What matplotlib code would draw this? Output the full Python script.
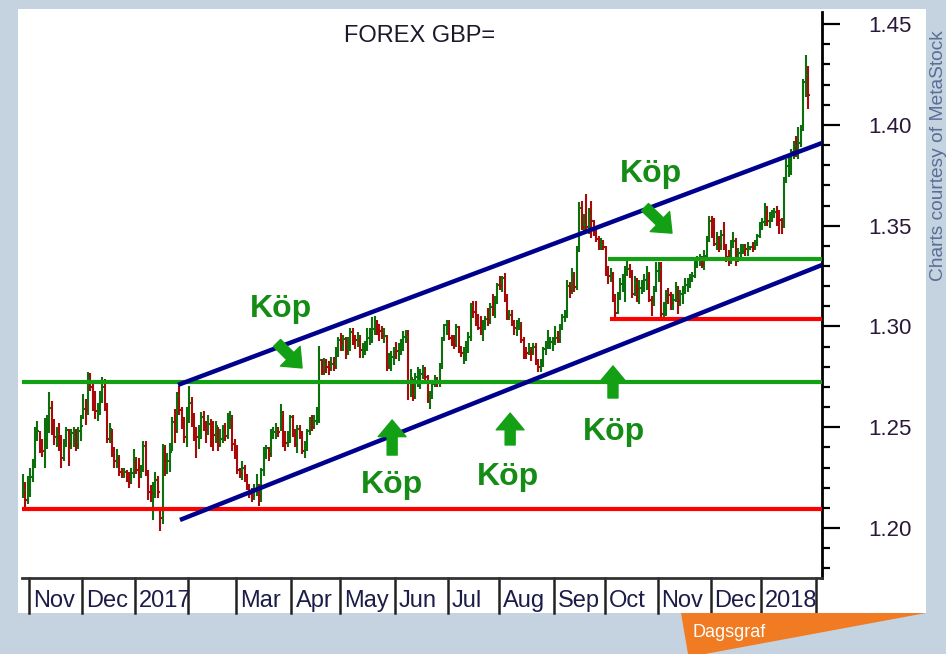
import numpy as np
import pandas as pd
import matplotlib
matplotlib.use('Agg')
import matplotlib.pyplot as plt
import matplotlib.transforms as mtransforms
from matplotlib.patches import Rectangle, Polygon
from matplotlib.ticker import MultipleLocator, FormatStrFormatter

# GBP/USD daily bars, 2016-10-27 .. 2018-01-26 (business days), one row per month
high = [
    1.2270, 1.2230, 1.2260,
    1.2300, 1.2340, 1.2500, 1.2530, 1.2480, 1.2440, 1.2545, 1.2560, 1.2675, 1.2630, 1.2540,
    1.2500, 1.2520, 1.2460, 1.2440, 1.2500, 1.2490, 1.2490, 1.2500, 1.2490, 1.2500, 1.2560,
    1.2665, 1.2640, 1.2775, 1.2770, 1.2720, 1.2680, 1.2620, 1.2680, 1.2750, 1.2740, 1.2620,
    1.2520, 1.2490, 1.2400, 1.2390, 1.2360, 1.2300, 1.2300, 1.2290, 1.2280, 1.2300, 1.2390,
    1.2350, 1.2345, 1.2315, 1.2430, 1.2430, 1.2290, 1.2215, 1.2230, 1.2280, 1.2260, 1.2100,
    1.2415, 1.2410, 1.2370, 1.2420, 1.2550, 1.2590, 1.2675, 1.2705, 1.2600, 1.2550, 1.2600,
    1.2705, 1.2650, 1.2570, 1.2500, 1.2510, 1.2575, 1.2580, 1.2530, 1.2560, 1.2540,
    1.2530, 1.2530, 1.2500, 1.2490, 1.2510, 1.2520, 1.2570, 1.2580, 1.2560, 1.2440,
    1.2410, 1.2300, 1.2330, 1.2315, 1.2270, 1.2220, 1.2200, 1.2220, 1.2270, 1.2220, 1.2300,
    1.2400, 1.2410, 1.2400, 1.2490, 1.2500, 1.2520, 1.2500, 1.2615, 1.2580, 1.2480, 1.2480, 1.2560,
    1.2560, 1.2490, 1.2510, 1.2510, 1.2480, 1.2430, 1.2490, 1.2550, 1.2560, 1.2560,
    1.2600, 1.2905, 1.2840, 1.2845, 1.2840, 1.2830, 1.2850, 1.2850, 1.2900, 1.2950,
    1.2965, 1.2960, 1.2950, 1.2950, 1.2990, 1.2990, 1.2960, 1.2970, 1.2960, 1.2920, 1.2930,
    1.2990, 1.2990, 1.3047, 1.3050, 1.3030, 1.3010, 1.3000, 1.2990, 1.2960, 1.2870, 1.2880, 1.2900,
    1.2925, 1.2920, 1.2940, 1.2975, 1.2980, 1.2980, 1.2790, 1.2740, 1.2770, 1.2800, 1.2790,
    1.2810, 1.2800, 1.2760, 1.2680, 1.2730, 1.2760, 1.2750, 1.2820, 1.2950, 1.3010, 1.3030,
    1.3030, 1.2960, 1.2960, 1.3010, 1.3000, 1.2905, 1.2900, 1.2930, 1.2970, 1.3115, 1.3125,
    1.3125, 1.3060, 1.3050, 1.3030, 1.3050, 1.3090, 1.3115, 1.3160, 1.3150, 1.3215,
    1.3250, 1.3250, 1.3267, 1.3160, 1.3080, 1.3080, 1.3030, 1.3030, 1.3040, 1.3020, 1.2950,
    1.2900, 1.2920, 1.2900, 1.2920, 1.2920, 1.2840, 1.2840, 1.2900, 1.2930, 1.2980, 1.2950, 1.2950,
    1.3000, 1.2975, 1.3010, 1.3060, 1.3080, 1.3230, 1.3220, 1.3290, 1.3270, 1.3400, 1.3615,
    1.3620, 1.3560, 1.3657, 1.3590, 1.3620, 1.3530, 1.3500, 1.3450, 1.3440, 1.3430,
    1.3400, 1.3300, 1.3290, 1.3270, 1.3160, 1.3170, 1.3240, 1.3260, 1.3300, 1.3338, 1.3310,
    1.3280, 1.3250, 1.3240, 1.3230, 1.3230, 1.3260, 1.3300, 1.3270, 1.3150, 1.3200, 1.3320,
    1.3320, 1.3320, 1.3120, 1.3180, 1.3190, 1.3170, 1.3160, 1.3220, 1.3200, 1.3180, 1.3200,
    1.3240, 1.3240, 1.3260, 1.3270, 1.3330, 1.3350, 1.3360, 1.3350, 1.3380, 1.3450, 1.3550,
    1.3550, 1.3540, 1.3470, 1.3450, 1.3480, 1.3520, 1.3410, 1.3380, 1.3430, 1.3470, 1.3440,
    1.3390, 1.3410, 1.3410, 1.3410, 1.3420, 1.3400, 1.3420, 1.3430, 1.3460, 1.3520,
    1.3540, 1.3610, 1.3600, 1.3570, 1.3580, 1.3590, 1.3600, 1.3580, 1.3540, 1.3740,
    1.3830, 1.3840, 1.3880, 1.3920, 1.3945, 1.3990, 1.4000, 1.4230, 1.4345, 1.4290,
]
low = [
    1.2150, 1.2100, 1.2120,
    1.2155, 1.2230, 1.2300, 1.2430, 1.2370, 1.2350, 1.2300, 1.2390, 1.2470, 1.2460, 1.2410,
    1.2400, 1.2380, 1.2300, 1.2330, 1.2400, 1.2310, 1.2390, 1.2400, 1.2380, 1.2390, 1.2430,
    1.2540, 1.2510, 1.2560, 1.2680, 1.2580, 1.2540, 1.2530, 1.2560, 1.2620, 1.2580, 1.2420,
    1.2420, 1.2350, 1.2300, 1.2300, 1.2260, 1.2250, 1.2250, 1.2230, 1.2200, 1.2220, 1.2250,
    1.2270, 1.2200, 1.2250, 1.2280, 1.2260, 1.2140, 1.2130, 1.2040, 1.2150, 1.2150, 1.1986,
    1.2020, 1.2260, 1.2270, 1.2280, 1.2380, 1.2420, 1.2470, 1.2560, 1.2490, 1.2420, 1.2400,
    1.2520, 1.2500, 1.2430, 1.2345, 1.2390, 1.2440, 1.2480, 1.2420, 1.2460, 1.2400,
    1.2380, 1.2420, 1.2380, 1.2400, 1.2420, 1.2430, 1.2440, 1.2490, 1.2380, 1.2340,
    1.2270, 1.2250, 1.2240, 1.2230, 1.2190, 1.2150, 1.2130, 1.2140, 1.2160, 1.2109, 1.2130,
    1.2260, 1.2340, 1.2330, 1.2350, 1.2440, 1.2440, 1.2450, 1.2480, 1.2400, 1.2380, 1.2400, 1.2420,
    1.2450, 1.2400, 1.2370, 1.2440, 1.2365, 1.2345, 1.2380, 1.2460, 1.2480, 1.2490,
    1.2510, 1.2520, 1.2760, 1.2760, 1.2770, 1.2760, 1.2780, 1.2780, 1.2790, 1.2850,
    1.2880, 1.2880, 1.2840, 1.2860, 1.2880, 1.2910, 1.2890, 1.2900, 1.2845, 1.2845, 1.2860,
    1.2880, 1.2910, 1.2920, 1.2960, 1.2960, 1.2930, 1.2940, 1.2920, 1.2780, 1.2790, 1.2780, 1.2810,
    1.2840, 1.2830, 1.2860, 1.2880, 1.2920, 1.2635, 1.2650, 1.2630, 1.2640, 1.2700, 1.2690,
    1.2740, 1.2730, 1.2620, 1.2590, 1.2640, 1.2700, 1.2700, 1.2700, 1.2790, 1.2930, 1.2960,
    1.2935, 1.2905, 1.2890, 1.2900, 1.2870, 1.2850, 1.2812, 1.2830, 1.2870, 1.2930, 1.3040,
    1.3000, 1.2980, 1.2960, 1.2930, 1.2980, 1.3000, 1.3010, 1.3050, 1.3040, 1.3110,
    1.3180, 1.3170, 1.3120, 1.3030, 1.3030, 1.3000, 1.2960, 1.2955, 1.2980, 1.2920, 1.2840,
    1.2840, 1.2860, 1.2830, 1.2860, 1.2810, 1.2775, 1.2775, 1.2800, 1.2860, 1.2890, 1.2890, 1.2880,
    1.2910, 1.2920, 1.2920, 1.2980, 1.3020, 1.3040, 1.3140, 1.3160, 1.3170, 1.3180, 1.3370,
    1.3480, 1.3460, 1.3480, 1.3460, 1.3440, 1.3450, 1.3420, 1.3380, 1.3380, 1.3380,
    1.3250, 1.3210, 1.3220, 1.3120, 1.3027, 1.3060, 1.3130, 1.3170, 1.3120, 1.3250, 1.3240,
    1.3140, 1.3150, 1.3120, 1.3110, 1.3160, 1.3170, 1.3180, 1.3120, 1.3050, 1.3100, 1.3170,
    1.3220, 1.3027, 1.3030, 1.3050, 1.3110, 1.3080, 1.3080, 1.3120, 1.3060, 1.3100, 1.3110,
    1.3160, 1.3170, 1.3190, 1.3220, 1.3240, 1.3290, 1.3300, 1.3290, 1.3280, 1.3330, 1.3420,
    1.3440, 1.3400, 1.3380, 1.3370, 1.3380, 1.3380, 1.3320, 1.3300, 1.3310, 1.3390, 1.3300,
    1.3320, 1.3340, 1.3360, 1.3350, 1.3350, 1.3380, 1.3370, 1.3380, 1.3400, 1.3440,
    1.3480, 1.3500, 1.3500, 1.3490, 1.3520, 1.3540, 1.3500, 1.3460, 1.3460, 1.3490,
    1.3710, 1.3740, 1.3750, 1.3830, 1.3840, 1.3830, 1.3890, 1.3970, 1.4140, 1.4080,
]
close = [
    1.2190, 1.2140, 1.2240,
    1.2255, 1.2310, 1.2480, 1.2480, 1.2400, 1.2380, 1.2405, 1.2530, 1.2595, 1.2505, 1.2450,
    1.2465, 1.2430, 1.2345, 1.2420, 1.2485, 1.2415, 1.2470, 1.2480, 1.2410, 1.2480, 1.2505,
    1.2590, 1.2585, 1.2740, 1.2700, 1.2625, 1.2580, 1.2580, 1.2640, 1.2700, 1.2600, 1.2440,
    1.2490, 1.2385, 1.2330, 1.2355, 1.2280, 1.2270, 1.2280, 1.2250, 1.2225, 1.2275, 1.2340,
    1.2290, 1.2275, 1.2290, 1.2405, 1.2285, 1.2180, 1.2175, 1.2195, 1.2240, 1.2180, 1.2050,
    1.2405, 1.2330, 1.2330, 1.2375, 1.2525, 1.2480, 1.2655, 1.2585, 1.2545, 1.2450, 1.2585,
    1.2620, 1.2535, 1.2480, 1.2450, 1.2470, 1.2550, 1.2500, 1.2485, 1.2515, 1.2475,
    1.2460, 1.2505, 1.2410, 1.2440, 1.2460, 1.2455, 1.2550, 1.2550, 1.2415, 1.2405,
    1.2290, 1.2270, 1.2300, 1.2250, 1.2205, 1.2170, 1.2160, 1.2190, 1.2205, 1.2160, 1.2290,
    1.2380, 1.2395, 1.2365, 1.2470, 1.2475, 1.2490, 1.2475, 1.2565, 1.2430, 1.2420, 1.2450, 1.2550,
    1.2480, 1.2410, 1.2490, 1.2470, 1.2380, 1.2415, 1.2480, 1.2535, 1.2500, 1.2530,
    1.2570, 1.2835, 1.2780, 1.2810, 1.2800, 1.2790, 1.2815, 1.2800, 1.2890, 1.2935,
    1.2920, 1.2940, 1.2880, 1.2920, 1.2970, 1.2940, 1.2935, 1.2950, 1.2885, 1.2885, 1.2900,
    1.2945, 1.2955, 1.2985, 1.3030, 1.3000, 1.2975, 1.2955, 1.2955, 1.2800, 1.2830, 1.2850, 1.2890,
    1.2880, 1.2885, 1.2905, 1.2950, 1.2950, 1.2720, 1.2745, 1.2650, 1.2750, 1.2750, 1.2765,
    1.2780, 1.2750, 1.2630, 1.2650, 1.2715, 1.2740, 1.2725, 1.2800, 1.2940, 1.3005, 1.3025,
    1.2945, 1.2930, 1.2910, 1.2995, 1.2880, 1.2870, 1.2880, 1.2895, 1.2950, 1.3100, 1.3070,
    1.3050, 1.2990, 1.2970, 1.2990, 1.3035, 1.3030, 1.3095, 1.3065, 1.3135, 1.3205,
    1.3200, 1.3240, 1.3140, 1.3040, 1.3055, 1.3020, 1.2990, 1.3005, 1.3010, 1.2935, 1.2885,
    1.2870, 1.2890, 1.2875, 1.2900, 1.2825, 1.2800, 1.2815, 1.2890, 1.2915, 1.2925, 1.2925, 1.2935,
    1.2945, 1.2935, 1.2995, 1.3045, 1.3045, 1.3200, 1.3175, 1.3260, 1.3195, 1.3385, 1.3590,
    1.3495, 1.3505, 1.3495, 1.3550, 1.3525, 1.3470, 1.3435, 1.3400, 1.3405, 1.3395,
    1.3285, 1.3250, 1.3260, 1.3135, 1.3065, 1.3150, 1.3210, 1.3245, 1.3275, 1.3285, 1.3270,
    1.3160, 1.3215, 1.3185, 1.3190, 1.3200, 1.3230, 1.3265, 1.3130, 1.3125, 1.3185, 1.3275,
    1.3285, 1.3060, 1.3075, 1.3165, 1.3155, 1.3115, 1.3130, 1.3190, 1.3125, 1.3160, 1.3190,
    1.3205, 1.3210, 1.3240, 1.3250, 1.3315, 1.3335, 1.3335, 1.3310, 1.3350, 1.3440, 1.3525,
    1.3490, 1.3410, 1.3425, 1.3400, 1.3455, 1.3390, 1.3345, 1.3330, 1.3415, 1.3425, 1.3325,
    1.3365, 1.3385, 1.3390, 1.3385, 1.3385, 1.3395, 1.3390, 1.3415, 1.3450, 1.3510,
    1.3520, 1.3585, 1.3525, 1.3550, 1.3565, 1.3570, 1.3545, 1.3530, 1.3500, 1.3725,
    1.3795, 1.3800, 1.3865, 1.3895, 1.3855, 1.3910, 1.3980, 1.4215, 1.4245, 1.4150,
]

month_labels = ['Nov', 'Dec', '2017', '', 'Mar', 'Apr', 'May', 'Jun', 'Jul',
                'Aug', 'Sep', 'Oct', 'Nov', 'Dec', '2018', '']

# drawn trend lines (bar index, price)
upper_channel_x = [64.4, 331.8]
upper_channel_y = [1.271, 1.391]
lower_channel_x = [65.2, 331.8]
lower_channel_y = [1.204, 1.3305]
green_levels = [(1.2724, -0.4), (1.3334, 243.0)]
red_levels = [(1.2094, -0.4), (1.3037, 243.8)]

# "Köp" notes: label position and arrow tail -> tip
kop_text_x = [107.2, 153.3, 201.4, 245.4, 260.8]
kop_text_y = [1.3047, 1.2174, 1.2213, 1.2437, 1.3716]
kop_arrow_tail = [(105.5, 1.2918), (153.3, 1.2362), (202.3, 1.2412), (245.0, 1.2645), (258.3, 1.3592)]
kop_arrow_tip = [(115.9, 1.2794), (153.3, 1.2536), (202.3, 1.2570), (245.0, 1.2804), (269.5, 1.3463)]

W, H = 946, 654
FONT = 'Liberation Sans'
GREEN = '#14a014'
TEXT_GREEN = '#158c15'
BLUE = '#00008e'
RED = '#ff0000'

days = pd.bdate_range('2016-10-27', '2018-01-26')
n = min(len(days), len(close), len(high), len(low))
x = np.arange(n)
c = np.array(close[:n])
hi = np.array(high[:n])
lo = np.array(low[:n])

fig = plt.figure(figsize=(W / 100, H / 100), dpi=100, facecolor='#c5d3e0')
fig.add_artist(Rectangle((18 / W, 1 - 613 / H), 908 / W, 604 / H, transform=fig.transFigure,
                         facecolor='white', edgecolor='none', zorder=-5))

ax = fig.add_axes([22 / W, 1 - 578 / H, 800 / W, 566 / H])
ax.set_facecolor('white')

# price bars
prev = np.concatenate([[c[0]], c[:-1]])
cols = np.where(c >= prev, '#0b700b', '#a80a0a')
ax.vlines(x, lo, hi, colors=cols, lw=1.5, zorder=2)
ax.hlines(c, x, x + 0.8, colors=cols, lw=1.5, zorder=2)

xmin, xmax = -0.4, 331.8
ax.set_xlim(xmin, xmax)
ax.set_ylim(1.1752, 1.456)

# drawn lines
for lvl, x0 in green_levels:
    ax.plot([x0, xmax], [lvl, lvl], color=GREEN, lw=3, solid_capstyle='butt', zorder=3)
for lvl, x0 in red_levels:
    ax.plot([x0, xmax], [lvl, lvl], color=RED, lw=3, solid_capstyle='butt', zorder=3)
ax.plot(upper_channel_x, upper_channel_y, color=BLUE, lw=3.2, solid_capstyle='butt', zorder=4)
ax.plot(lower_channel_x, lower_channel_y, color=BLUE, lw=3.2, solid_capstyle='butt', zorder=4)

for tx, ty in zip(kop_text_x, kop_text_y):
    ax.text(tx, ty, 'Köp', ha='center', va='baseline', fontsize=23, fontweight='bold',
            family=FONT, color=TEXT_GREEN, zorder=5)
for tail, tip in zip(kop_arrow_tail, kop_arrow_tip):
    ax.annotate('', xy=tip, xytext=tail,
                arrowprops=dict(arrowstyle='simple,head_length=0.6,head_width=1.0,tail_width=0.36',
                                color=GREEN, shrinkA=0, shrinkB=0, mutation_scale=20),
                zorder=5)

# axes styling
for side in ['top', 'left']:
    ax.spines[side].set_visible(False)
ax.spines['right'].set_linewidth(2)
ax.spines['bottom'].set_linewidth(2)
ax.spines['bottom'].set_color('#333333')
ax.yaxis.tick_right()
ax.set_yticks([1.20, 1.25, 1.30, 1.35, 1.40, 1.45])
ax.yaxis.set_major_formatter(FormatStrFormatter('%.2f'))
ax.yaxis.set_minor_locator(MultipleLocator(0.01))
ax.tick_params(axis='y', which='major', length=13, width=1.6, pad=20,
               labelsize=16, labelcolor='#2a1838')
ax.tick_params(axis='y', which='minor', length=6, width=1.6)
for lab in ax.get_yticklabels():
    lab.set_family(FONT)
ax.set_xticks([])

# month strip below the axis
all_days = pd.bdate_range('2016-10-27', '2018-02-28')
month_start = np.where(all_days.month[1:] != all_days.month[:-1])[0] + 1
seps = month_start - 0.5
trans = ax.get_xaxis_transform()
strip = (613 - 578) / 566
label_trans = mtransforms.offset_copy(trans, fig=fig, x=4, y=0, units='dots')
for i, s in enumerate(seps):
    if s > xmax:
        break
    ax.plot([s, s], [0, -strip], transform=trans, clip_on=False, color='#222222', lw=1.8)
    if i < len(month_labels) and month_labels[i]:
        ax.text(s, -29 / 566, month_labels[i], transform=label_trans, ha='left', va='baseline',
                fontsize=17, family=FONT, color='#1c1c48')

# texts around the chart
fig.text(420 / W, 1 - 42 / H, 'FOREX GBP=', ha='center', va='baseline', fontsize=17,
         family=FONT, color='#1a1a2a')
fig.text(938 / W, 1 - 156 / H, 'Charts courtesy of MetaStock', rotation=90, ha='center',
         va='center', fontsize=13.8, family=FONT, color='#5a6e96')

fig.add_artist(Polygon([(681 / W, 1 - 613 / H), (926 / W, 1 - 613 / H), (705 / W, 1 - 654 / H),
                        (688 / W, 1 - 654 / H)], closed=True, transform=fig.transFigure,
                       facecolor='#f07b22', edgecolor='none', zorder=1))
fig.text(693 / W, 1 - 637 / H, 'Dagsgraf', ha='left', va='baseline', fontsize=13,
         family=FONT, color='white', zorder=2)

fig.savefig('out.png', dpi=100, facecolor=fig.get_facecolor())
